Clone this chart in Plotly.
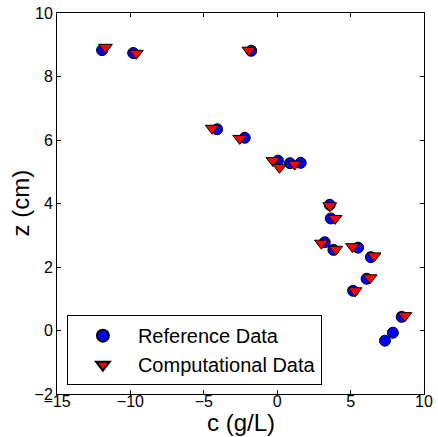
import plotly.graph_objects as go

ref_c = [-11.93, -9.81, -1.77, -4.09, -2.21, 0.05, 0.87, 1.60, 3.58, 3.65, 3.24, 3.83,
         5.51, 6.38, 6.09, 5.17, 8.48, 7.88, 7.34]
ref_z = [8.83, 8.74, 8.81, 6.34, 6.07, 5.35, 5.27, 5.28, 3.96, 3.53, 2.78, 2.54,
         2.61, 2.31, 1.63, 1.25, 0.43, -0.07, -0.32]
comp_c = [-11.7, -9.6, -1.93, -4.43, -2.55, -0.29, 0.16, 1.19, 3.58, 3.94, 3.01, 3.99,
          5.13, 6.60, 6.33, 5.31, 8.70]
comp_z = [8.92, 8.73, 8.83, 6.37, 6.05, 5.35, 5.14, 5.24, 3.93, 3.53, 2.75, 2.56,
          2.64, 2.35, 1.66, 1.25, 0.47]

x_ticks = [-15, -10, -5, 0, 5, 10]
y_ticks = [-2, 0, 2, 4, 6, 8, 10]
x_title = "c (g/L)"
y_title = "z (cm)"

fig = go.Figure()
fig.add_trace(go.Scatter(x=ref_c, y=ref_z, mode="markers", name="Reference Data",
                         marker=dict(symbol="circle", size=11, color="#0000ff",
                                     line=dict(color="black", width=1))))
fig.add_trace(go.Scatter(x=comp_c, y=comp_z, mode="markers", name="Computational Data",
                         marker=dict(symbol="triangle-down", size=12, color="#ff0000",
                                     line=dict(color="black", width=1))))

axis_common = dict(showline=True, linecolor="black", linewidth=1, mirror="ticks",
                   ticks="inside", ticklen=4, tickcolor="black", showgrid=False,
                   zeroline=False, automargin=False,
                   tickfont=dict(family="Liberation Sans", size=16, color="black"))
fig.update_xaxes(range=[-15, 10], tickvals=x_ticks, ticklabelstandoff=-7, **axis_common)
fig.update_yaxes(range=[-2, 10], tickvals=y_ticks, **axis_common)

title_font = dict(family="Liberation Sans", size=24, color="black")
fig.add_annotation(text=x_title, xref="paper", yref="paper", x=0.5, y=-0.0735,
                   xanchor="center", yanchor="middle", showarrow=False, font=title_font)
fig.add_annotation(text=y_title, xref="paper", yref="paper", x=-0.1008, y=0.5,
                   xanchor="center", yanchor="middle", showarrow=False, textangle=-90,
                   font=title_font)

fig.update_layout(
    width=438, height=437,
    margin=dict(l=57, r=14, t=13, b=43),
    plot_bgcolor="white", paper_bgcolor="white",
    legend=dict(x=0.027, y=0.207, xanchor="left", yanchor="top",
                bordercolor="black", borderwidth=1, bgcolor="white",
                font=dict(family="Liberation Sans", size=20, color="black"),
                itemsizing="constant", itemwidth=60, tracegroupgap=0),
)
fig.write_html("out.html")
